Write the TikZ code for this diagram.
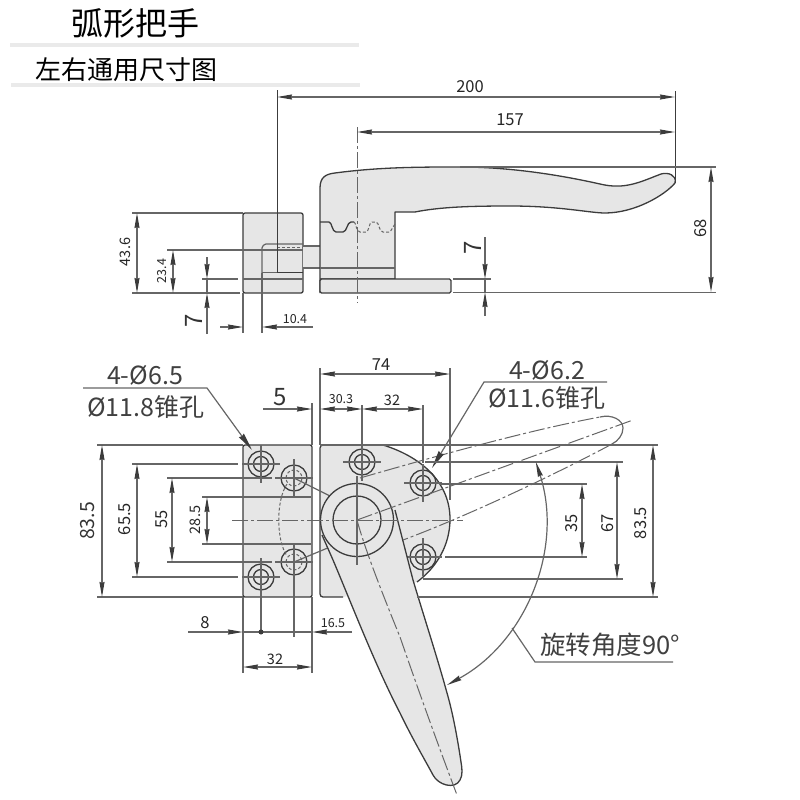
\documentclass[tikz,border=0pt]{standalone}
\usepackage{fontspec}
\setmainfont{Noto Sans CJK SC}
\usepackage{tikz}
\usetikzlibrary{arrows,arrows.meta}
\definecolor{partfill}{HTML}{E6E6E6}
\definecolor{headline}{HTML}{EAEAEA}
\definecolor{inkline}{HTML}{3C3C3C}
\definecolor{dimgrey}{HTML}{666666}
\tikzstyle{part}    = [draw=inkline, line width=1.3pt, fill=partfill, line join=round]
\tikzstyle{outline} = [draw=inkline, line width=1.3pt]
\tikzstyle{ext}     = [draw=dimgrey, line width=1.2pt]
\tikzstyle{dimend}  = [draw=dimgrey, line width=1.2pt, -{Stealth[length=15pt,width=5pt,inset=1pt,inkline]}]
\tikzstyle{dimboth} = [draw=dimgrey, line width=1.2pt, {Stealth[length=15pt,width=5pt,inset=1pt,inkline]}-{Stealth[length=15pt,width=5pt,inset=1pt,inkline]}]
\tikzstyle{leader}  = [draw=dimgrey, line width=1.2pt, -{Stealth[length=18pt,width=6pt,inset=1pt,inkline]}]
\tikzstyle{centre}  = [draw=dimgrey, line width=1pt, dash pattern=on 16pt off 3pt on 3pt off 3pt]
\tikzstyle{ghost}   = [draw=dimgrey, line width=1pt, dash pattern=on 16pt off 3pt on 3pt off 3pt]
\tikzstyle{hidden}  = [draw=dimgrey, line width=1pt, dash pattern=on 3pt off 2pt]
\tikzstyle{tiny}    = [inner sep=0, text=black!85, font=\fontsize{12.5}{14}\selectfont]
\tikzstyle{small}   = [inner sep=0, text=black!85, font=\fontsize{14.5}{16}\selectfont]
\tikzstyle{mid}     = [inner sep=0, text=black!85, font=\fontsize{16.5}{18}\selectfont]
\tikzstyle{big}     = [inner sep=0, text=black!80, font=\fontsize{19.5}{22}\selectfont]
\tikzstyle{huge}    = [inner sep=0, text=black!80, font=\fontsize{24}{26}\selectfont]
\tikzstyle{note}    = [inner sep=0, text=black!75, font=\fontsize{25}{27}\selectfont]
\begin{document}
\begin{tikzpicture}[x=1pt,y=-1pt]
\useasboundingbox (0,0) rectangle (800,800);
% headings
\fill [headline] (10,43) rectangle (359,47);
\fill [headline] (11,83) rectangle (360,87);
\node (title) [inner sep=0, font=\fontsize{32}{34}\selectfont] at (135,23) {弧形把手};
\node (subtitle) [inner sep=0, font=\fontsize{26}{28}\selectfont] at (126,70) {左右通用尺寸图};
% side view
\draw [part, rounded corners=2pt] (243,213) rectangle (303,293);
\fill [partfill] (303,246) rectangle (320,268);
\draw [ext] (303,246) -- (320,246);
\draw [ext] (303,268) -- (320,268);
\draw [ext, rounded corners=1pt] (262,273) -- (262,247) -- (265,244) -- (303,244);
\draw [ext] (262,250) -- (303,250);
\draw [part] (320,293) -- (320,188) .. controls (320,177) and (326,174) .. (335,173)
	.. controls (380,167) and (420,167) .. (460,167)
	.. controls (510,167) and (560,175) .. (600,184)
	.. controls (625,190) and (640,182) .. (661,174)
	.. controls (668,172) and (677,175) .. (675,183)
	.. controls (665,195) and (635,213) .. (605,213)
	.. controls (590,213) and (560,206) .. (510,206)
	.. controls (470,206) and (440,207) .. (415,212)
	-- (395,212) -- (395,279) -- (320,279);
\draw [part, rounded corners=1.5pt] (320,279) rectangle (451,293);
\draw [ext] (320,268) -- (395,268);
\draw [ext] (243,279) -- (303,279);
\draw [outline] (320,222) -- (329,222) .. controls (332,222) and (332,232) .. (336,232) -- (343,232) .. controls (347,232) and (347,222) .. (351,222) -- (354,222);
\draw [hidden] (354,222) .. controls (356,222) and (356,232) .. (360,232) -- (366,232) .. controls (369,232) and (369,222) .. (372,222) -- (376,222) .. controls (379,222) and (379,232) .. (383,232) -- (390,232) -- (395,224);
\draw [hidden] (277,247) -- (303,247);
\draw [centre] (357,127) -- (357,303);
% side view dimensions
\draw [draw=inkline, line width=1pt] (277,90) -- (277,272.5) -- (303,272.5);
\draw [ext] (262,272.5) -- (277,272.5);
\draw [draw=inkline, line width=1pt] (675,91) -- (675,183);
\draw [dimboth] (277,97) -- (675,97);
\draw [dimboth] (357,132) -- (675,132);
\node (len200) [mid] at (470,87) {200};
\node (len157) [mid] at (510,120) {157};
\draw [ext] (460,167) -- (716,167);
\draw [ext] (453,292.5) -- (716,292.5);
\draw [dimboth] (711,167) -- (711,292);
\node (high68) [mid, rotate=90] at (701,228) {68};
\draw [ext] (453,279) -- (491,279);
\draw [ext] (485,279) -- (485,292);
\draw [dimend] (485,237) -- (485,279);
\draw [dimend] (485,316) -- (485,292);
\node (baseR) [huge, rotate=90] at (473,248) {7};
\draw [ext] (132,213) -- (243,213);
\draw [ext] (132,293) -- (240,293);
\draw [dimboth] (137,213) -- (137,293);
\node (high436) [small, rotate=90] at (125,252) {43.6};
\draw [ext] (167,250) -- (262,250);
\draw [dimboth] (173,250) -- (173,293);
\node (high234) [tiny, rotate=90] at (162,271) {23.4};
\draw [ext] (202,279) -- (238,279);
\draw [ext] (207,279) -- (207,293);
\draw [dimend] (207,257) -- (207,279);
\draw [dimend] (207,334) -- (207,293);
\node (baseL) [huge, rotate=90] at (194,321) {7};
\draw [ext] (243,293) -- (243,333);
\draw [ext] (262,273) -- (262,333);
\draw [dimend] (220,327) -- (243,327);
\draw [dimend] (313,327) -- (262,327);
\node (off104) [tiny] at (295,319) {10.4};
% bottom view plates
\draw [part, rounded corners=2pt] (243,445) rectangle (312,597);
\fill [partfill] (320,445) -- (383,445) .. controls (425,458) and (450,485) .. (450,519) .. controls (450,545) and (437,567) .. (417,582) -- (343,597) -- (320,597) -- cycle;
\draw [outline] (383,445) .. controls (425,458) and (450,485) .. (450,519) .. controls (450,545) and (437,567) .. (417,582);
\draw [outline, rounded corners=3pt] (343,597) -- (320,597) -- (320,445) -- (383,445);
% holes
\foreach \hx/\hy in {261/464, 261/577, 362/462, 423/483, 423/557} {
	\draw [outline] (\hx,\hy) circle (13);
	\draw [outline] (\hx,\hy) circle (7.5);
	\draw [ext] (\hx-19,\hy) -- (\hx+19,\hy);
	\draw [ext] (\hx,\hy-19) -- (\hx,\hy+19);
}
\foreach \hx/\hy in {294/478, 294/562} {
	\draw [outline] (\hx,\hy) circle (13);
	\draw [hidden] (\hx,\hy) circle (8);
	\draw [ext] (\hx-19,\hy) -- (\hx+19,\hy);
	\draw [ext] (\hx,\hy-19) -- (\hx,\hy+19);
}
\draw [hidden] (287,484) .. controls (276,500) and (276,540) .. (287,556);
\draw [ext] (294,478) -- (330,496);
\draw [ext] (294,562) -- (330,547);
% handle
\draw [part] (322,535) -- (333,560) .. controls (350,600) and (375,665) .. (400,713)
	.. controls (412,738) and (425,760) .. (433,775)
	.. controls (438,785) and (455,790) .. (460,780)
	.. controls (463,775) and (462,768) .. (461,762)
	.. controls (457,735) and (452,710) .. (447,693)
	.. controls (438,660) and (425,620) .. (413,580) -- (395,510);
\coordinate (hub) at (357,520);
\draw [part] (hub) circle (36.5);
\draw [outline] (hub) circle (24);
\draw [ext] (362,405) -- (362,445);
\draw [ext] (357,476) -- (357,565);
\draw [centre] (232,520) -- (463,520);
\draw [centre] (hub) .. controls (365,550) and (385,600) .. (400,637) .. controls (420,695) and (440,750) .. (457,795);
% swung handle
\draw [ghost] (360,478) .. controls (440,455) and (530,430) .. (600,417);
\draw [ext] (600,417) .. controls (612,414) and (623,420) .. (623,428) .. controls (623,435) and (618,441) .. (612,444);
\draw [ghost] (612,444) .. controls (560,472) and (470,515) .. (403,540);
\draw [ghost] (hub) -- (633,420);
% bottom view dimensions
\draw [ext] (97,445) -- (243,445);
\draw [ext] (97,597) -- (243,597);
\draw [dimboth] (102,445) -- (102,597);
\node (widL835) [big, rotate=90] at (88,521) {83.5};
\draw [ext] (132,464) -- (238,464);
\draw [ext] (132,577) -- (238,577);
\draw [dimboth] (137,464) -- (137,577);
\node (wid655) [mid, rotate=90] at (125,519) {65.5};
\draw [ext] (167,478) -- (272,478);
\draw [ext] (167,562) -- (272,562);
\draw [dimboth] (172,478) -- (172,562);
\node (wid55) [mid, rotate=90] at (162,519) {55};
\draw [ext] (202,497) -- (311,497);
\draw [ext] (202,544) -- (311,544);
\draw [dimboth] (207,497) -- (207,544);
\node (wid285) [small, rotate=90] at (195,520) {28.5};
% leaders
\draw [leader] (83,388) -- (207,388) -- (252,450);
\node (holeL) [note] at (145,375) {4-Ø6.5};
\node (coneL) [note] at (146,407) {Ø11.8锥孔};
\draw [leader] (607,382) -- (484,382) -- (432,468);
\node (holeR) [note] at (547,370) {4-Ø6.2};
\node (coneR) [note] at (547,398) {Ø11.6锥孔};
% top dimensions of bottom view
\draw [ext] (320,368) -- (320,445);
\draw [ext] (450,368) -- (450,500);
\draw [dimboth] (320,374) -- (450,374);
\node (wid74) [mid] at (381,365) {74};
\draw [ext] (312,403) -- (312,445);
\draw [dimend] (263,409) -- (312,409);
\node (gap5) [huge] at (280,397) {5};
\draw [dimboth] (320,409) -- (362,409);
\node (off303) [tiny] at (341,399) {30.3};
\draw [dimboth] (362,409) -- (423,409);
\node (pitch32) [small] at (392,400) {32};
\draw [ext] (423,405) -- (423,463);
% right dimensions
\draw [ext] (320,445) -- (658,445);
\draw [ext] (417,597) -- (658,597);
\draw [dimboth] (653,445) -- (653,597);
\node (widR835) [mid, rotate=90] at (641,523) {83.5};
\draw [ext] (425,462) -- (623,462);
\draw [ext] (423,579) -- (623,579);
\draw [dimboth] (617,462) -- (617,579);
\node (wid67) [mid, rotate=90] at (608,523) {67};
\draw [ext] (440,484) -- (587,484);
\draw [ext] (445,557) -- (587,557);
\draw [dimboth] (582,484) -- (582,557);
\node (wid35) [mid, rotate=90] at (572,523) {35};
% lower dimensions
\draw [ext] (243,597) -- (243,673);
\draw [ext] (312,597) -- (312,673);
\draw [ext] (261,577) -- (261,632);
\draw [ext] (294,562) -- (294,637);
\draw [dimend] (188,632) -- (243,632);
\draw [dimend] (352,632) -- (312,632);
\draw [ext] (243,632) -- (312,632);
\fill [inkline] (261,632) circle (2.5);
\node (off8) [mid] at (205,623) {8};
\node (off165) [tiny] at (333,623) {16.5};
\draw [dimboth] (243,667) -- (312,667);
\node (pitchL32) [small] at (275,659) {32};
% swing angle
\draw [dimboth] (hub) ++(-18:188) arc (-18:61.4:188);
\draw [ext] (512,628) -- (535,662) -- (673,662);
\node (angle) [inner sep=0, text=black!75, font=\fontsize{25.5}{27}\selectfont] at (610,645) {旋转角度90°};
\end{tikzpicture}
\end{document}
